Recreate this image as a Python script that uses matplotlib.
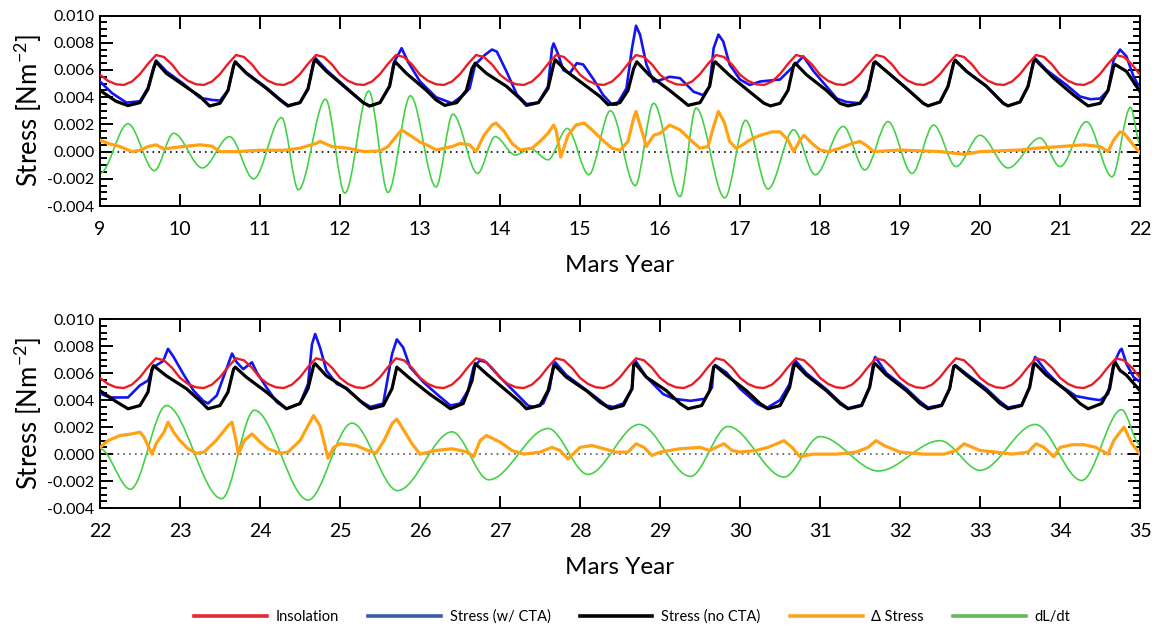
import numpy as np
import matplotlib
matplotlib.use("Agg")
import matplotlib.pyplot as plt
from matplotlib.path import Path
from matplotlib.patches import PathPatch
from matplotlib.lines import Line2D
from matplotlib.ticker import MultipleLocator, FormatStrFormatter

plt.rcParams['font.family'] = ['Lato', 'DejaVu Sans']
plt.rcParams['mathtext.default'] = 'regular'
plt.rcParams['axes.unicode_minus'] = False

# values, in units of 1e-3 N m^-2
SCALE = 1e-3

# insolation, sampled every 0.1 Mars year
INSOL_TOP_X = np.round(np.arange(9.0, 22.001, 0.1), 2)
INSOL_TOP = [
    5.65, 5.2, 4.95, 4.9, 5.15, 5.7, 6.45, 7.1, 6.95, 6.4,
    5.65, 5.2, 4.95, 4.9, 5.15, 5.7, 6.45, 7.1, 6.95, 6.4,
    5.65, 5.2, 4.95, 4.9, 5.15, 5.7, 6.45, 7.1, 6.95, 6.4,
    5.65, 5.2, 4.95, 4.9, 5.15, 5.7, 6.45, 7.1, 6.95, 6.4,
    5.65, 5.2, 4.95, 4.9, 5.15, 5.7, 6.45, 7.1, 6.95, 6.4,
    5.65, 5.2, 4.95, 4.9, 5.15, 5.7, 6.45, 7.1, 6.95, 6.4,
    5.65, 5.2, 4.95, 4.9, 5.15, 5.7, 6.45, 7.1, 6.95, 6.4,
    5.65, 5.2, 4.95, 4.9, 5.15, 5.7, 6.45, 7.1, 6.95, 6.4,
    5.65, 5.2, 4.95, 4.9, 5.15, 5.7, 6.45, 7.1, 6.95, 6.4,
    5.65, 5.2, 4.95, 4.9, 5.15, 5.7, 6.45, 7.1, 6.95, 6.4,
    5.65, 5.2, 4.95, 4.9, 5.15, 5.7, 6.45, 7.1, 6.95, 6.4,
    5.65, 5.2, 4.95, 4.9, 5.15, 5.7, 6.45, 7.1, 6.95, 6.4,
    5.65, 5.2, 4.95, 4.9, 5.15, 5.7, 6.45, 7.1, 6.95, 6.4,
    5.65]
INSOL_BOT_X = np.round(np.arange(22.0, 35.001, 0.1), 2)
INSOL_BOT = list(INSOL_TOP)

# stress without CTA (black), top panel
BLACK_TOP_X = [9.0, 9.2, 9.35, 9.5, 9.6, 9.67, 9.7, 9.83, 10.04, 10.25, 10.37, 10.5, 10.6, 10.67, 10.69,
               10.83, 11.08, 11.25, 11.35, 11.5, 11.6, 11.67, 11.69, 11.83, 12.08, 12.29, 12.37, 12.5,
               12.62, 12.67, 12.69, 12.83, 13.08, 13.2, 13.31, 13.46, 13.58, 13.65, 13.69, 13.83, 14.08,
               14.25, 14.33, 14.48, 14.6, 14.67, 14.69, 14.83, 15.08, 15.25, 15.35, 15.5, 15.6, 15.67,
               15.71, 15.87, 16.12, 16.29, 16.35, 16.5, 16.62, 16.67, 16.69, 16.87, 17.12, 17.3, 17.38,
               17.5, 17.6, 17.67, 17.69, 17.83, 18.08, 18.25, 18.35, 18.5, 18.6, 18.67, 18.69, 18.83,
               19.08, 19.29, 19.35, 19.5, 19.6, 19.67, 19.69, 19.83, 20.08, 20.29, 20.35, 20.5, 20.6,
               20.67, 20.69, 20.92, 21.17, 21.35, 21.5, 21.6, 21.67, 21.69, 21.83, 22.0]
BLACK_TOP = [4.5, 3.7, 3.38, 3.6, 4.6, 6.1, 6.6, 5.75, 4.9, 4.05, 3.35, 3.55, 4.5, 6.3, 6.6,
             5.75, 4.65, 3.8, 3.35, 3.6, 4.6, 6.5, 6.75, 5.9, 4.65, 3.6, 3.35, 3.6,
             4.8, 6.3, 6.6, 5.75, 4.5, 3.8, 3.4, 3.6, 4.5, 6.1, 6.5, 5.75, 4.8,
             3.9, 3.4, 3.6, 4.65, 6.4, 6.75, 5.9, 4.8, 4.05, 3.45, 3.6, 4.5, 6.1,
             6.6, 5.6, 4.5, 3.7, 3.4, 3.6, 4.8, 6.4, 6.6, 5.6, 4.4, 3.55, 3.36,
             3.55, 4.5, 6.35, 6.5, 5.65, 4.5, 3.55, 3.36, 3.55, 4.5, 6.5, 6.6, 5.9,
             4.65, 3.55, 3.36, 3.65, 4.8, 6.5, 6.7, 5.9, 4.8, 3.55, 3.36, 3.65, 4.8,
             6.6, 6.75, 5.4, 4.15, 3.36, 3.55, 4.5, 6.25, 6.4, 5.9, 4.4]

# stress with CTA (blue), top panel
BLUE_TOP_X = [9.0, 9.15, 9.33, 9.5, 9.6, 9.67, 9.7, 9.83, 10.04, 10.25, 10.4, 10.5, 10.6, 10.67, 10.69,
              10.83, 11.08, 11.25, 11.35, 11.5, 11.6, 11.67, 11.69, 11.83, 12.08, 12.29, 12.37, 12.5,
              12.62, 12.67, 12.77, 12.85, 13.0, 13.2, 13.4, 13.55, 13.62, 13.69, 13.81, 13.9, 13.96,
              14.08, 14.21, 14.33, 14.48, 14.6, 14.65, 14.67, 14.73, 14.79, 14.87, 14.96, 15.04, 15.17,
              15.29, 15.4, 15.46, 15.58, 15.65, 15.7, 15.75, 15.83, 15.92, 16.0, 16.12, 16.25, 16.42,
              16.54, 16.62, 16.67, 16.73, 16.79, 16.87, 17.0, 17.12, 17.25, 17.5, 17.62, 17.71, 17.79,
              17.92, 18.21, 18.33, 18.5, 18.58, 18.67, 18.69, 18.83, 19.08, 19.29, 19.35, 19.5, 19.6,
              19.67, 19.69, 19.83, 20.08, 20.29, 20.35, 20.5, 20.6, 20.67, 20.69, 20.83, 21.08, 21.25,
              21.38, 21.5, 21.6, 21.67, 21.75, 21.83, 21.92, 22.0]
BLUE_TOP = [5.15, 4.3, 3.6, 3.7, 4.7, 6.2, 6.7, 5.9, 5.0, 3.95, 3.8, 3.75, 4.5, 6.3, 6.6,
            5.8, 4.7, 3.85, 3.4, 3.6, 4.65, 6.6, 6.9, 6.0, 4.7, 3.6, 3.35, 3.6,
            4.85, 6.5, 7.6, 6.6, 5.15, 4.0, 3.55, 4.2, 4.65, 6.4, 7.1, 7.5, 7.35,
            5.9, 4.2, 3.5, 3.6, 4.8, 7.6, 7.95, 7.1, 6.0, 5.75, 6.5, 6.4, 5.3,
            4.15, 3.45, 3.45, 4.65, 7.6, 9.25, 8.6, 6.4, 5.15, 5.25, 5.5, 5.4, 4.4,
            4.15, 4.8, 7.6, 8.6, 8.1, 6.4, 5.3, 4.9, 5.15, 5.3, 6.0, 6.5, 7.0,
            5.9, 3.9, 3.65, 3.55, 4.05, 6.25, 6.6, 5.9, 4.65, 3.55, 3.36, 3.65, 4.8,
            6.5, 6.75, 5.9, 4.8, 3.55, 3.36, 3.65, 4.8, 6.75, 6.85, 6.0, 4.9, 4.05,
            3.85, 3.9, 4.5, 6.75, 7.5, 7.0, 5.5, 4.65]

# delta stress (orange), top panel
DELTA_TOP_X = [9.0, 9.1, 9.25, 9.4, 9.5, 9.6, 9.7, 9.8, 10.0, 10.25, 10.4, 10.5, 10.7, 11.0, 11.3,
               11.5, 11.7, 11.75, 11.9, 12.1, 12.3, 12.5, 12.6, 12.7, 12.77, 12.9, 13.0, 13.1, 13.2,
               13.4, 13.5, 13.62, 13.7, 13.8, 13.9, 13.95, 14.05, 14.15, 14.25, 14.4, 14.5, 14.6,
               14.67, 14.7, 14.76, 14.85, 14.95, 15.05, 15.15, 15.3, 15.4, 15.5, 15.6, 15.67, 15.7,
               15.75, 15.83, 15.92, 16.0, 16.12, 16.25, 16.4, 16.5, 16.6, 16.67, 16.73, 16.8, 16.87,
               16.95, 17.0, 17.12, 17.25, 17.4, 17.5, 17.6, 17.67, 17.75, 17.8, 17.9, 18.0, 18.1,
               18.25, 18.4, 18.5, 18.6, 18.67, 19.0, 19.5, 19.8, 20.0, 20.5, 20.7, 21.0, 21.3, 21.5,
               21.6, 21.67, 21.75, 21.8, 21.9, 22.0]
DELTA_TOP = [0.85, 0.6, 0.37, 0.0, 0.1, 0.37, 0.5, 0.2, 0.35, 0.5, 0.4, 0.0, 0.0, 0.1, 0.1,
             0.25, 0.6, 0.75, 0.37, 0.25, 0.0, 0.05, 0.37, 1.1, 1.6, 1.1, 0.7, 0.45, 0.12,
             0.37, 0.6, 0.5, 0.0, 1.2, 1.95, 2.1, 1.5, 0.6, 0.12, 0.25, 0.75, 1.35,
             1.95, 1.6, -0.4, 1.2, 1.95, 2.1, 1.6, 0.75, 0.25, 0.1, 0.75, 2.45, 2.95,
             1.95, 0.37, 1.2, 1.35, 1.95, 1.6, 0.75, 0.25, 0.37, 1.85, 2.95, 2.2, 0.75,
             0.25, 0.37, 0.85, 1.2, 1.45, 1.45, 0.85, 0.0, 0.85, 1.2, 0.6, 0.12, 0.0,
             0.25, 0.6, 0.75, 0.37, 0.0, 0.12, 0.0, -0.2, 0.0, 0.12, 0.25, 0.37, 0.5, 0.37,
             0.0, 0.85, 1.45, 1.35, 0.6, -0.1]

# dL/dt (green), top panel: turning points
DLDT_TOP_X = [9.0, 9.35, 9.68, 9.92, 10.28, 10.62, 10.92, 11.27, 11.48, 11.82, 12.06, 12.36, 12.6,
              12.88, 13.2, 13.41, 13.72, 13.94, 14.19, 14.38, 14.6, 14.84, 15.11, 15.38, 15.69,
              15.92, 16.25, 16.45, 16.81, 17.07, 17.35, 17.67, 17.94, 18.29, 18.56, 18.85, 19.15,
              19.42, 19.7, 20.0, 20.35, 20.75, 21.0, 21.33, 21.65, 21.88, 22.0]
DLDT_TOP = [-1.6, 2.05, -1.4, 1.35, -1.2, 1.1, -2.0, 2.5, -2.8, 3.85, -3.05, 4.45, -3.0,
            4.1, -2.6, 2.75, -1.6, 1.1, -0.25, 0.2, -0.6, 1.7, -1.7, 3.0, -2.5,
            3.55, -3.3, 3.2, -3.4, 2.3, -2.75, 1.6, -1.7, 1.85, -1.35, 2.2, -1.6,
            1.95, -1.1, 1.2, -1.2, 1.0, -1.1, 2.2, -1.85, 3.25, 0.6]

# stress without CTA (black), bottom panel
BLACK_BOT_X = [22.0, 22.2, 22.35, 22.5, 22.6, 22.65, 22.67, 22.83, 23.08, 23.25, 23.35, 23.5, 23.6,
               23.67, 23.69, 23.83, 24.08, 24.25, 24.33, 24.5, 24.6, 24.67, 24.69, 24.83, 25.08,
               25.29, 25.38, 25.54, 25.65, 25.71, 25.875, 26.12, 26.29, 26.38, 26.54, 26.65, 26.69,
               26.83, 27.08, 27.25, 27.33, 27.5, 27.6, 27.67, 27.69, 27.83, 28.08, 28.25, 28.38,
               28.54, 28.65, 28.67, 28.69, 28.83, 29.08, 29.25, 29.35, 29.52, 29.62, 29.67, 29.69,
               29.83, 30.08, 30.25, 30.35, 30.5, 30.62, 30.67, 30.69, 30.83, 31.08, 31.25, 31.35,
               31.52, 31.62, 31.67, 31.69, 31.83, 32.08, 32.25, 32.35, 32.52, 32.62, 32.67, 32.69,
               32.83, 33.08, 33.25, 33.35, 33.52, 33.62, 33.67, 33.69, 33.83, 34.08, 34.25, 34.35,
               34.52, 34.62, 34.67, 34.69, 34.75, 34.83, 35.0]
BLACK_BOT = [4.7, 3.9, 3.36, 3.6, 4.6, 6.3, 6.55, 5.8, 4.85, 3.95, 3.36, 3.6, 4.6,
             6.3, 6.45, 5.7, 4.6, 3.75, 3.36, 3.75, 4.85, 6.55, 6.7, 5.8, 4.85,
             3.75, 3.36, 3.6, 4.85, 6.45, 5.6, 4.45, 3.75, 3.36, 3.75, 5.45, 6.7,
             5.95, 4.7, 3.85, 3.36, 3.6, 4.7, 6.45, 6.55, 5.7, 4.7, 3.85, 3.36,
             3.6, 4.85, 6.55, 6.7, 5.7, 4.7, 3.75, 3.36, 3.6, 4.7, 6.45, 6.55,
             5.85, 4.7, 3.75, 3.36, 3.6, 4.95, 6.45, 6.7, 5.85, 4.7, 3.75, 3.36,
             3.6, 4.95, 6.55, 6.7, 5.85, 4.7, 3.75, 3.36, 3.6, 4.85, 6.45, 6.55,
             5.85, 4.7, 3.75, 3.36, 3.6, 4.95, 6.55, 6.7, 5.85, 4.7, 3.75, 3.36,
             3.75, 4.85, 6.55, 6.8, 6.2, 5.85, 4.7]

# stress with CTA (blue), bottom panel
BLUE_BOT_X = [22.0, 22.12, 22.35, 22.5, 22.6, 22.67, 22.79, 22.85, 22.92, 23.04, 23.17, 23.29, 23.35,
              23.46, 23.58, 23.65, 23.71, 23.79, 23.9, 23.96, 24.08, 24.21, 24.33, 24.5, 24.6, 24.65,
              24.69, 24.75, 24.83, 24.96, 25.08, 25.25, 25.38, 25.54, 25.65, 25.71, 25.79, 25.875,
              26.04, 26.21, 26.38, 26.5, 26.6, 26.67, 26.75, 26.83, 27.0, 27.25, 27.35, 27.42, 27.54,
              27.62, 27.67, 27.69, 27.83, 28.0, 28.17, 28.33, 28.42, 28.54, 28.65, 28.67, 28.69,
              28.83, 29.04, 29.17, 29.38, 29.56, 29.65, 29.67, 29.69, 29.83, 30.0, 30.21, 30.33,
              30.5, 30.62, 30.67, 30.69, 30.83, 31.08, 31.25, 31.35, 31.52, 31.62, 31.67, 31.69,
              31.83, 32.08, 32.25, 32.35, 32.52, 32.62, 32.67, 32.69, 32.83, 33.08, 33.25, 33.35,
              33.52, 33.62, 33.67, 33.69, 33.83, 34.0, 34.2, 34.38, 34.5, 34.6, 34.67, 34.75, 34.77,
              34.83, 34.92, 35.0]
BLUE_BOT = [4.5, 4.2, 4.2, 5.1, 5.45, 6.45, 6.9, 7.8, 7.2, 5.95, 4.7, 3.95, 3.75,
            4.35, 6.3, 7.45, 6.8, 6.3, 6.8, 6.05, 4.95, 3.85, 3.36, 3.75, 5.2, 8.15,
            8.9, 7.9, 6.2, 5.2, 4.9, 3.95, 3.5, 3.75, 7.4, 8.5, 7.9, 6.45,
            5.35, 4.45, 3.6, 3.75, 4.7, 6.45, 6.95, 6.8, 5.7, 4.2, 3.6, 3.5, 3.75,
            4.85, 6.7, 6.8, 5.85, 5.1, 4.35, 3.6, 3.5, 3.75, 4.85, 6.7, 6.95,
            5.7, 4.45, 4.1, 3.95, 4.1, 4.95, 6.45, 6.6, 6.05, 4.85, 3.75, 3.4,
            4.0, 5.2, 6.8, 6.95, 6.0, 4.8, 3.85, 3.4, 3.65, 5.0, 6.9, 7.2,
            6.0, 4.85, 3.9, 3.45, 3.65, 4.85, 6.5, 6.6, 5.95, 4.85, 3.9, 3.45,
            3.65, 5.0, 6.9, 7.2, 6.1, 5.1, 4.3, 4.1, 4.0, 4.45, 6.7, 7.7, 7.8,
            6.7, 5.7, 5.35]

# delta stress (orange), bottom panel
DELTA_BOT_X = [22.0, 22.1, 22.25, 22.4, 22.5, 22.55, 22.65, 22.7, 22.8, 22.85, 22.92, 23.0, 23.1, 23.2,
               23.3, 23.45, 23.6, 23.65, 23.7, 23.73, 23.8, 23.9, 24.0, 24.1, 24.25, 24.35, 24.5,
               24.6, 24.67, 24.75, 24.85, 24.92, 25.0, 25.2, 25.35, 25.45, 25.55, 25.65, 25.71,
               25.8, 25.9, 26.0, 26.2, 26.4, 26.6, 26.67, 26.75, 26.83, 27.0, 27.15, 27.3, 27.5,
               27.65, 27.75, 27.85, 28.0, 28.15, 28.3, 28.45, 28.6, 28.7, 28.8, 28.9, 29.0, 29.25,
               29.5, 29.62, 29.7, 29.8, 29.9, 30.0, 30.2, 30.35, 30.55, 30.65, 30.75, 30.9, 31.2,
               31.45, 31.6, 31.7, 31.8, 32.0, 32.3, 32.55, 32.7, 32.8, 33.0, 33.2, 33.4, 33.6,
               33.7, 33.8, 33.92, 34.0, 34.15, 34.3, 34.45, 34.6, 34.67, 34.75, 34.8, 34.9, 35.0]
DELTA_BOT = [0.5, 1.0, 1.38, 1.5, 1.63, 1.26, 0.0, 0.77, 1.63, 2.37, 1.63, 1.0, 0.4, 0.07,
             0.15, 1.0, 2.1, 2.37, 1.0, 0.0, 1.0, 1.5, 0.9, 0.4, 0.07, 0.15, 1.0,
             2.1, 2.86, 2.1, -0.3, 0.5, 0.77, 0.64, 0.27, 0.07, 1.0, 2.25, 2.6,
             1.75, 0.77, 0.0, 0.27, 0.4, 0.15, -0.2, 1.0, 1.38, 0.9, 0.27, 0.0, 0.15,
             0.5, 0.27, -0.35, 0.5, 0.64, 0.4, 0.15, 0.15, 0.77, 0.5, -0.1, 0.15, 0.4,
             0.5, 0.27, 0.5, 0.77, 0.27, 0.15, 0.27, 0.5, 1.0, 0.5, -0.2, 0.0, 0.0,
             0.15, 0.5, 1.0, 0.64, 0.15, 0.0, 0.0, 0.27, 0.77, 0.27, 0.15, 0.0, 0.15,
             0.77, 0.5, -0.2, 0.5, 0.7, 0.7, 0.5, 0.0, 1.0, 1.63, 2.0, 0.77, 0.0]

# dL/dt (green), bottom panel: turning points
DLDT_BOT_X = [22.0, 22.38, 22.83, 23.52, 23.93, 24.6, 25.15, 25.72, 26.4, 26.86, 27.6, 28.1, 28.74,
              29.38, 29.85, 30.55, 31.0, 31.73, 32.5, 33.0, 33.69, 34.27, 34.77, 35.0]
DLDT_BOT = [0.4, -2.6, 3.6, -3.3, 3.25, -3.4, 2.3, -2.7, 1.65, -1.9, 1.9, -1.5, 2.2,
            -1.65, 2.05, -1.7, 1.3, -1.25, 1.0, -1.2, 2.2, -1.95, 3.3, 0.7]

LEGEND_LABELS = ['Insolation', 'Stress (w/ CTA)', 'Stress (no CTA)', '\u0394 Stress', 'dL/dt']

RED = '#ec1c24'
BLUE = '#1414f0'
ORANGE = '#ffa216'
GREEN = '#45d145'


def smooth_path(xs, ys):
    """Bezier path through turning points, flat tangent at each one."""
    verts = [(xs[0], ys[0])]
    codes = [Path.MOVETO]
    for i in range(len(xs) - 1):
        x0, y0, x1, y1 = xs[i], ys[i], xs[i + 1], ys[i + 1]
        dx = x1 - x0
        verts += [(x0 + dx / 3, y0), (x1 - dx / 3, y1), (x1, y1)]
        codes += [Path.CURVE4] * 3
    return Path(verts, codes)


def s(vals):
    return np.asarray(vals) * SCALE


def draw_panel(ax, x0, x1, ins_x, ins, blk_x, blk, blu_x, blu, dl_x, dl, dt_x, dt, zero_col):
    ax.axhline(0, color=zero_col, lw=1.2, ls=(0, (1, 2.5)), zorder=1)
    ax.add_patch(PathPatch(smooth_path(dt_x, s(dt)), fill=False, edgecolor=GREEN, lw=1.2, zorder=2))
    ax.plot(dl_x, s(dl), color=ORANGE, lw=2.3, zorder=3)
    ax.plot(blu_x, s(blu), color=BLUE, lw=1.9, zorder=4)
    ax.plot(blk_x, s(blk), color='black', lw=2.3, zorder=5)
    ax.plot(ins_x, s(ins), color=RED, lw=1.7, zorder=6)

    ax.set_xlim(x0, x1)
    ax.set_ylim(-0.004, 0.010)
    ax.set_xticks(range(x0, x1 + 1))
    ax.set_yticks(np.arange(-0.004, 0.0101, 0.002))
    ax.yaxis.set_minor_locator(MultipleLocator(0.0005))
    ax.yaxis.set_major_formatter(FormatStrFormatter('%.3f'))
    ax.tick_params(which='both', direction='in', top=True, right=True, width=1.4)
    ax.tick_params(which='major', length=9)
    ax.tick_params(which='minor', length=5)
    ax.tick_params(axis='x', labelsize=14, pad=11)
    ax.tick_params(axis='y', labelsize=11.5, pad=4)
    for sp in ax.spines.values():
        sp.set_linewidth(1.4)
    ax.set_xlabel('Mars Year', fontsize=17.5, labelpad=12)
    ax.set_ylabel('Stress [Nm$^{-2}$]', fontsize=18.5, labelpad=2)


fig = plt.figure(figsize=(11.6, 6.32), dpi=100)
ax_top = fig.add_axes([0.0862, 0.674, 0.8966, 0.3014])
ax_bot = fig.add_axes([0.0862, 0.196, 0.8966, 0.299])

draw_panel(ax_top, 9, 22, INSOL_TOP_X, INSOL_TOP, BLACK_TOP_X, BLACK_TOP, BLUE_TOP_X, BLUE_TOP,
           DELTA_TOP_X, DELTA_TOP, DLDT_TOP_X, DLDT_TOP, 'black')
draw_panel(ax_bot, 22, 35, INSOL_BOT_X, INSOL_BOT, BLACK_BOT_X, BLACK_BOT, BLUE_BOT_X, BLUE_BOT,
           DELTA_BOT_X, DELTA_BOT, DLDT_BOT_X, DLDT_BOT, '#555555')

handles = [Line2D([], [], color=c, lw=2.6)
           for c in ['#e52a36', '#3b5ba5', 'black', '#f7a823', '#62b850']]
fig.legend(handles, LEGEND_LABELS, loc='center', bbox_to_anchor=(0.545, 0.024), ncol=5,
           frameon=False, fontsize=10.5, handlelength=5.0, handletextpad=0.6, columnspacing=2.0)

fig.savefig('out.png', dpi=100)
